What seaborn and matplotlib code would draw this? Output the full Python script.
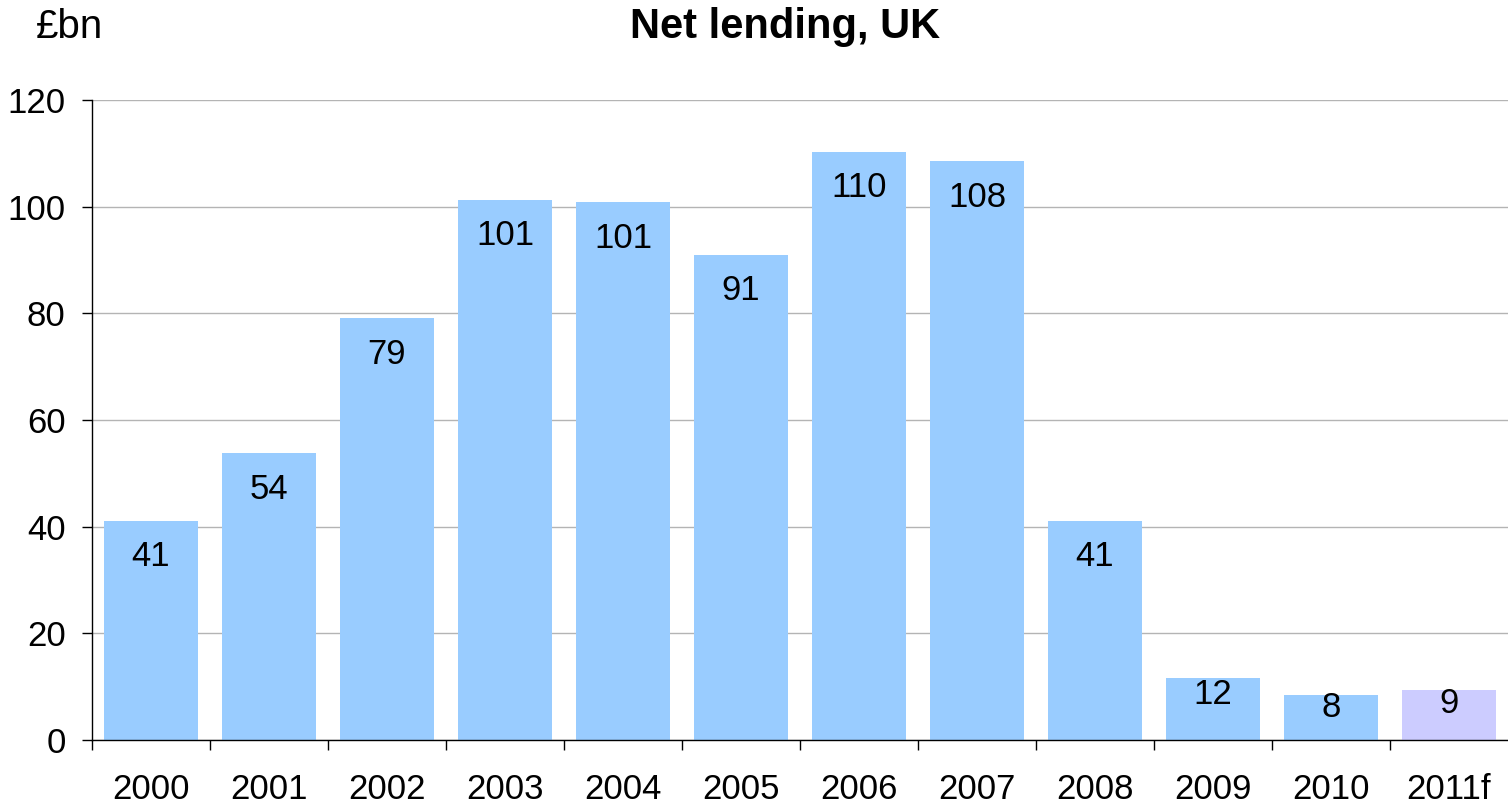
import matplotlib
matplotlib.use("Agg")
import matplotlib.pyplot as plt
import seaborn as sns
import pandas as pd
import numpy as np

# Net lending to UK individuals, £bn (2011 is a forecast)
years = ["2000", "2001", "2002", "2003", "2004", "2005",
         "2006", "2007", "2008", "2009", "2010", "2011f"]
net_lending = [41.1, 53.8, 79.1, 101.3, 100.8, 91.0,
               110.3, 108.5, 41.1, 11.6, 8.4, 9.3]
bar_colors = ["#99CCFF"] * 11 + ["#CCCCFF"]

df = pd.DataFrame({"year": years, "value": net_lending})

sns.set_theme(style="white")
plt.rcParams["font.family"] = ["Liberation Sans", "DejaVu Sans"]
plt.rcParams["text.color"] = "black"
plt.rcParams["xtick.color"] = "black"
plt.rcParams["ytick.color"] = "black"

fig = plt.figure(figsize=(15.08, 8.05), dpi=100)
ax = fig.add_axes([0.061, 0.0807, 0.939, 0.7951])

sns.barplot(data=df, x="year", y="value", hue="year", palette=bar_colors,
            width=0.8, legend=False, saturation=1, linewidth=0, ax=ax)

ax.set_xlim(-0.5, len(years) - 0.5)
ax.set_ylim(0, 120)
ax.set_yticks(np.arange(0, 121, 20))
ax.yaxis.grid(True, color="#b4b4b4", linewidth=1.0)
ax.set_axisbelow(True)

for side in ["top", "right"]:
    ax.spines[side].set_visible(False)
for side in ["left", "bottom"]:
    ax.spines[side].set_color("#000000")
    ax.spines[side].set_linewidth(1.0)

ax.set_xlabel("")
ax.set_ylabel("")
ax.tick_params(axis="y", which="major", length=7, width=1, color="black",
               direction="out", left=True, labelsize=25, labelcolor="black",
               pad=12)
ax.tick_params(axis="x", which="major", length=0, labelsize=25,
               labelcolor="black", pad=24)
ax.set_xticks(np.arange(-0.5, len(years) - 0.5, 1), minor=True)
ax.tick_params(axis="x", which="minor", length=7, width=1, color="black",
               direction="out", bottom=True)

# Value labels just inside the top of each bar
px_per_unit = 640 / 120
for i, v in enumerate(net_lending):
    h_px = v * px_per_unit
    off = min(36, 0.27 * h_px)
    ax.annotate(f"{v:.0f}", xy=(i, v), xytext=(0, -off * 72 / 100),
                textcoords="offset points", ha="center", va="center",
                fontsize=25, color="black")

fig.text(0.5205, 0.966, "Net lending, UK", ha="center", va="center",
         fontsize=30, fontweight="bold", color="black")
fig.text(0.0235, 0.966, "£bn", ha="left", va="center", fontsize=29,
         color="black")

fig.savefig("out.png", dpi=100)
